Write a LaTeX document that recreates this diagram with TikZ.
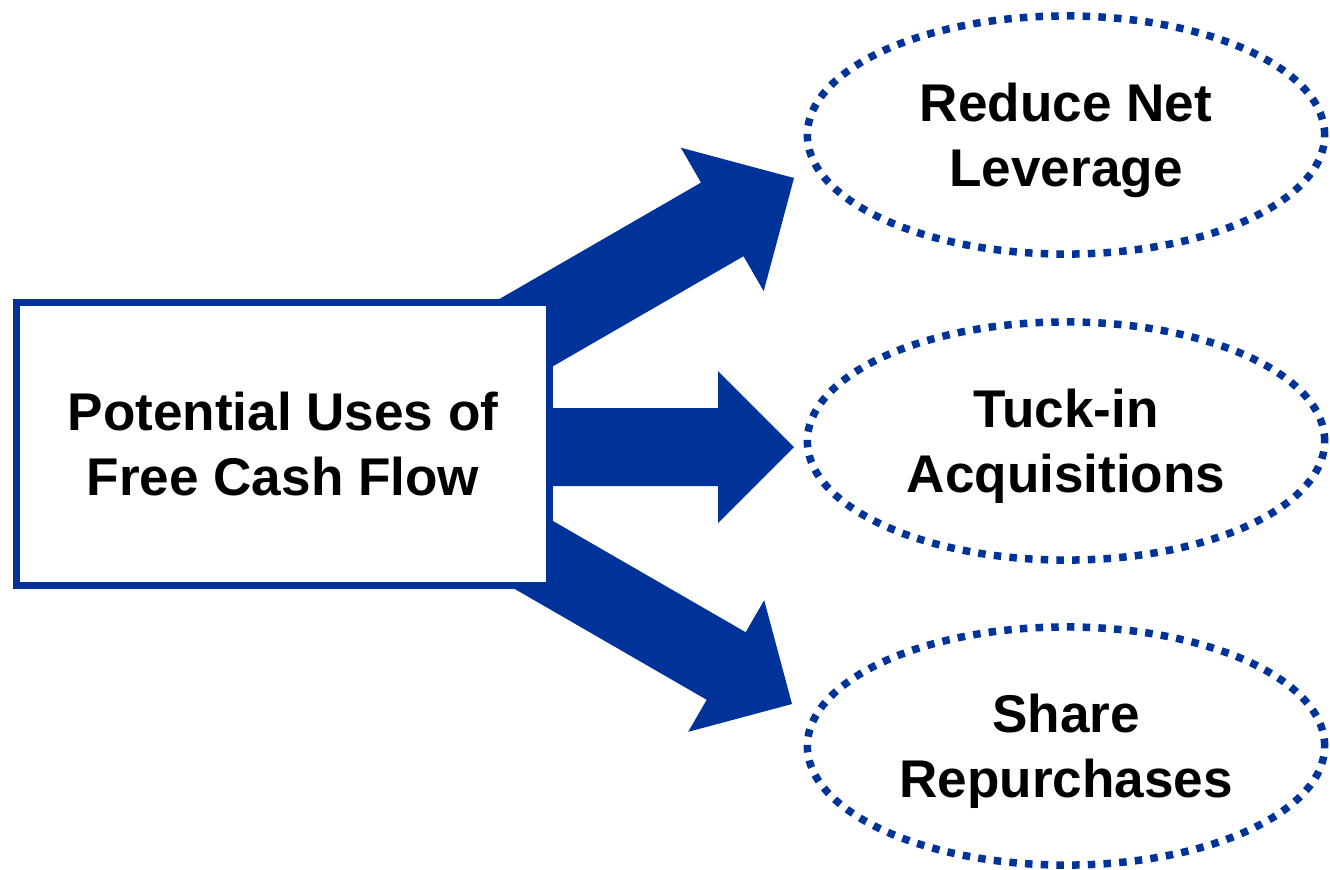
\documentclass[tikz,border=0pt]{standalone}
\usepackage{fontspec}
\setmainfont{Liberation Sans}
\usetikzlibrary{shapes.geometric}

\definecolor{flowblue}{RGB}{0,51,153}

\tikzset{
  fcfbox/.style={draw=flowblue,line width=0.7mm,fill=white,minimum width=5.32cm,minimum height=2.82cm,
    align=center,font=\bfseries\fontsize{15.1pt}{18.5pt}\selectfont},
  usebubble/.style={ellipse,draw=flowblue,line width=0.75mm,dash pattern=on 0.75mm off 0.82mm,
    minimum width=5.17cm,minimum height=2.38cm,inner sep=0pt,align=center,text depth=0pt,
    font=\bfseries\fontsize{15.1pt}{18.5pt}\selectfont},
  pics/flowarrow/.style={code={
    \fill[flowblue] (0,0) -- (-76,76) -- (-76,39) -- (-376,39) -- (-376,-39) -- (-76,-39) -- (-76,-76) -- cycle;
  }}
}

\begin{document}
\begin{tikzpicture}[x=0.01cm,y=-0.01cm]
  \useasboundingbox (0,0) rectangle (1330,869);

  \node[usebubble] (lev) at (1066,135) {Reduce Net\\Leverage};
  \node[usebubble] (tuck) at (1066,441) {Tuck-in\\Acquisitions};
  \node[usebubble] (buy) at (1066,746) {Share\\Repurchases};

  \coordinate (tipA) at (794,178);
  \coordinate (tipB) at (794,447);
  \coordinate (tipC) at (792,704);

  \pic[rotate=30,scale=1.09] at (tipA) {flowarrow};
  \pic at (tipB) {flowarrow};
  \pic[rotate=-30] at (tipC) {flowarrow};

  \node[fcfbox] (fcf) at (283,444) {Potential Uses of\\Free Cash Flow};
\end{tikzpicture}
\end{document}
